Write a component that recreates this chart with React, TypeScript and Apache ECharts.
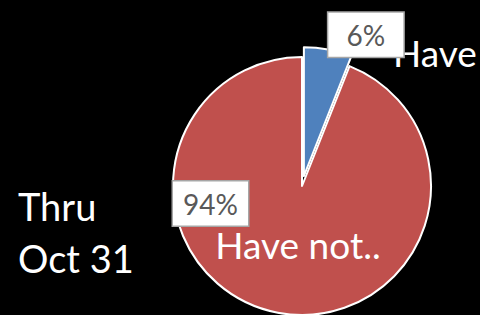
import React, { useEffect, useRef } from "react";
import * as echarts from "echarts";

const categories = ["Have", "Have not.."];
const values = [6, 94];
const sideNote = ["Thru", "Oct 31"];

const pctPos = [
  { x: 365.5, y: 30 },
  { x: 210.5, y: 203.5 },
];
const namePos = [
  { x: 393, y: 52.5 },
  { x: 298, y: 244 },
];

export default function App() {
  const ref = useRef<HTMLDivElement>(null);
  useEffect(() => {
    if (!ref.current) return;
    const chart = echarts.init(ref.current, null, { renderer: "svg" });
    const data = categories.map((c, i) => ({
      name: c,
      value: values[i],
      selected: i === 0,
    }));
    chart.setOption({
      animation: false,
      backgroundColor: "#000000",
      title: {
        text: sideNote.join("\n"),
        left: 13,
        top: 175,
        textStyle: {
          color: "#ffffff",
          fontFamily: "Lato",
          fontWeight: "normal",
          fontSize: 38,
          lineHeight: 52,
        },
      },
      series: [
        {
          type: "pie",
          center: [302, 186],
          radius: 129,
          startAngle: 90,
          clockwise: true,
          selectedMode: "single",
          selectedOffset: 10,
          data,
          itemStyle: { borderColor: "#ffffff", borderWidth: 2 },
          color: ["#4F81BD", "#C0504D"],
          label: {
            show: true,
            formatter: (p: any) => Math.round(p.percent) + "%",
            color: "#595959",
            fontFamily: "Lato",
            fontSize: 28,
            lineHeight: 28,
            backgroundColor: "#ffffff",
            borderColor: "#a6a6a6",
            borderWidth: 1.5,
            padding: [8, 8],
            width: 59,
            overflow: "none",
            align: "center",
          },
          labelLine: { show: false },
          labelLayout: (p: any) => ({
            x: pctPos[p.dataIndex].x,
            y: pctPos[p.dataIndex].y,
            align: "center",
            verticalAlign: "middle",
          }),
        },
        {
          type: "pie",
          center: [302, 186],
          radius: 129,
          startAngle: 90,
          clockwise: true,
          silent: true,
          data: categories.map((c, i) => ({ name: c, value: values[i] })),
          itemStyle: { color: "rgba(0,0,0,0)", borderWidth: 0 },
          label: {
            show: true,
            formatter: "{b}",
            color: "#ffffff",
            fontFamily: "Lato",
            fontSize: 37,
          },
          labelLine: { show: false },
          labelLayout: (p: any) => ({
            x: namePos[p.dataIndex].x,
            y: namePos[p.dataIndex].y,
            align: p.dataIndex === 0 ? "left" : "center",
            verticalAlign: "middle",
          }),
        },
      ],
    });
    return () => chart.dispose();
  }, []);
  return (
    <div
      ref={ref}
      style={{ position: "fixed", left: 0, top: 0, width: 480, height: 315 }}
    />
  );
}
